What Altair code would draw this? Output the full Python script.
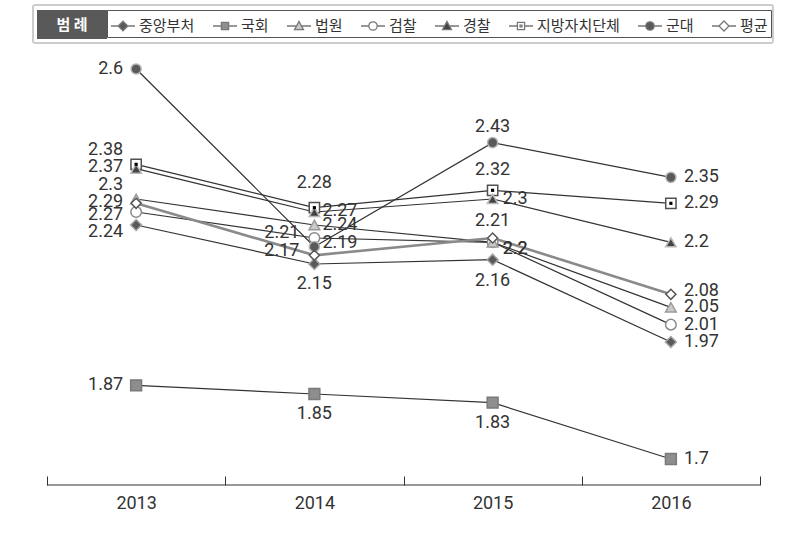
import altair as alt
import pandas as pd

years = ["2013", "2014", "2015", "2016"]
series = ["중앙부처", "국회", "법원", "검찰", "경찰", "지방자치단체", "군대", "평균"]
v_central = [2.24, 2.15, 2.16, 1.97]
v_assembly = [1.87, 1.85, 1.83, 1.70]
v_court = [2.30, 2.24, 2.20, 2.05]
v_prosecution = [2.27, 2.21, 2.20, 2.01]
v_police = [2.37, 2.27, 2.30, 2.20]
v_local = [2.38, 2.28, 2.32, 2.29]
v_military = [2.60, 2.19, 2.43, 2.35]
v_average = [2.29, 2.17, 2.21, 2.08]
values = [v_central, v_assembly, v_court, v_prosecution, v_police, v_local, v_military, v_average]

# ---- styles ----
draw_order = ["국회", "중앙부처", "검찰", "법원", "지방자치단체", "경찰", "군대", "평균"]
shapes = ["diamond", "square", "triangle-up", "circle", "triangle-up", "square", "circle", "diamond"]
fills = ["#5a5a5a", "#8e8e8e", "#c9c9c9", "#ffffff", "#444444", "#ffffff", "#5a5a5a", "#ffffff"]
strokes = ["#a5a5a5", "#7a7a7a", "#9a9a9a", "#8a8a8a", "#b8b8b8", "#505050", "#b5b5b5", "#555555"]
sizes = [121, 100, 144, 144, 144, 100, 160, 196]

legend_paths = [
    "M-1,0H-0.4M0.4,0H1M0,-0.4L0.4,0L0,0.4L-0.4,0Z",
    "M-1,0H-0.3M0.3,0H1M-0.3,-0.3H0.3V0.3H-0.3Z",
    "M-1,0H-0.22M0.22,0H1M0,-0.38L0.37,0.3H-0.37Z",
    "M-1,0H-0.35M0.35,0H1M0.35,0A0.35,0.35 0 1,1 -0.35,0A0.35,0.35 0 1,1 0.35,0Z",
    "M-1,0H-0.22M0.22,0H1M0,-0.38L0.37,0.3H-0.37Z",
    "M-1,0H-0.3M0.3,0H1M-0.3,-0.3H0.3V0.3H-0.3ZM-0.08,-0.08H0.08V0.08H-0.08Z",
    "M-1,0H-0.35M0.35,0H1M0.35,0A0.35,0.35 0 1,1 -0.35,0A0.35,0.35 0 1,1 0.35,0Z",
    "M-1,0H-0.42M0.42,0H1M0,-0.42L0.42,0L0,0.42L-0.42,0Z",
]
legend_strokes = ["#777777"] * 8

# label placement: L=left, R=right, A=above, B=below
place = {
    "중앙부처": ["L", "B", "B", "R"],
    "국회": ["L", "B", "B", "R"],
    "법원": ["L", "R", "R", "R"],
    "검찰": ["L", "L", "R", "R"],
    "경찰": ["L", "R", "R", "R"],
    "지방자치단체": ["L", "A", "A", "R"],
    "군대": ["L", "R", "A", "R"],
    "평균": ["L", "L", "A", "R"],
}
base_off = {"L": ("right", -13, 0), "R": ("left", 13, 0),
            "A": ("center", 0, -18), "B": ("center", 0, 20)}
nudge = {
    ("지방자치단체", "2013"): (0, -14), ("경찰", "2013"): (0, -2), ("법원", "2013"): (0, -14),
    ("평균", "2013"): (0, -1), ("검찰", "2013"): (0, 3), ("중앙부처", "2013"): (0, 7),
    ("지방자치단체", "2014"): (0, -7), ("경찰", "2014"): (-5, -1), ("법원", "2014"): (-5, 0),
    ("검찰", "2014"): (-2, -5), ("군대", "2014"): (-5, -4), ("평균", "2014"): (-2, -4),
    ("군대", "2015"): (0, 2), ("지방자치단체", "2015"): (0, -2), ("평균", "2015"): (0, 1),
    ("법원", "2015"): (-3, 7), ("검찰", "2015"): (-3, 7), ("경찰", "2015"): (-3, 0),
    ("중앙부처", "2015"): (0, 1), ("평균", "2016"): (0, -3),
}

rows = []
for s, vals in zip(series, values):
    for i, (yr, v) in enumerate(zip(years, vals)):
        align, bx, by = base_off[place[s][i]]
        nx, ny = nudge.get((s, yr), (0, 0))
        rows.append({"series": s, "year": yr, "value": v, "label": f"{v:g}",
                     "align": align, "dx": bx + nx, "dy": by + ny,
                     "ord": draw_order.index(s)})
df = pd.DataFrame(rows).sort_values(["ord", "year"]).reset_index(drop=True)

W, H = 713, 435
NUM_FONT = "Roboto, 'Liberation Sans', sans-serif"

x_enc = alt.X("year:O",
              scale=alt.Scale(type="band", paddingInner=0, paddingOuter=0),
              bandPosition=0.5,
              axis=alt.Axis(title=None, domain=False, tickBand="extent", tickSize=9,
                            offset=-9, labelAngle=0, labelFont=NUM_FONT,
                            labelFontSize=18, labelColor="#333333", tickColor="#333333",
                            tickWidth=1, labelPadding=9, grid=False))
y_enc = alt.Y("value:Q", scale=alt.Scale(domain=[1.64, 2.6438], nice=False, zero=False),
              axis=None)

lines = alt.Chart(df).transform_filter("datum.series != '평균'").mark_line(
    color="#333333", strokeWidth=1.2).encode(x=x_enc, y=y_enc, detail="series:N")
avg_line = alt.Chart(df).transform_filter("datum.series == '평균'").mark_line(
    color="#8a8a8a", strokeWidth=2.6).encode(x=x_enc, y=y_enc, detail="series:N")

points = alt.Chart(df).mark_point(filled=True, opacity=1, strokeWidth=1.5).encode(
    x=x_enc, y=y_enc,
    shape=alt.Shape("series:N", scale=alt.Scale(domain=series, range=shapes), legend=None),
    fill=alt.Fill("series:N", scale=alt.Scale(domain=series, range=fills), legend=None),
    stroke=alt.Stroke("series:N", scale=alt.Scale(domain=series, range=strokes), legend=None),
    size=alt.Size("series:N", scale=alt.Scale(domain=series, range=sizes), legend=None),
    order=alt.Order("ord:Q"),
)
dots = alt.Chart(df).transform_filter("datum.series == '지방자치단체'").mark_point(
    filled=True, shape="square", size=10, color="#000000", opacity=1).encode(x=x_enc, y=y_enc)

label_layers = []
for (align, dx, dy), d in df.groupby(["align", "dx", "dy"]):
    label_layers.append(
        alt.Chart(d).mark_text(align=align, baseline="middle", font=NUM_FONT,
                               fontSize=18, color="#333333", dx=int(dx), dy=int(dy)).encode(
            x=x_enc, y=y_enc, text="label:N"))

leg = alt.Legend(title=None, orient="none", legendX=60, legendY=-40, direction="horizontal",
                 columns=8, symbolSize=576, symbolStrokeWidth=1.3, symbolOpacity=1,
                 labelFont="Noto Sans CJK KR", labelFontSize=15, labelColor="#333333",
                 labelOffset=3, columnPadding=15, padding=3, fillColor="#ffffff",
                 strokeColor="#555555", labelLimit=300)
legend_layer = alt.Chart(df).transform_filter("false").mark_point(filled=True, opacity=1).encode(
    shape=alt.Shape("series:N", scale=alt.Scale(domain=series, range=legend_paths), legend=leg),
    fill=alt.Fill("series:N", scale=alt.Scale(domain=series, range=fills), legend=leg),
    stroke=alt.Stroke("series:N", scale=alt.Scale(domain=series, range=legend_strokes), legend=leg),
)

one = alt.Data(values=[{"a": 1}])
frame = alt.Chart(one).mark_rect(fill="#ffffff", stroke="#cccccc", strokeWidth=2, cornerRadius=2).encode(
    x=alt.value(-14), x2=alt.value(726), y=alt.value(-45), y2=alt.value(-7))
tab = alt.Chart(one).mark_rect(fill="#595959").encode(
    x=alt.value(-10), x2=alt.value(60), y=alt.value(-40), y2=alt.value(-11))
tab_text = alt.Chart(one).mark_text(text="범 례", font="Noto Sans CJK KR", fontSize=15,
                                    fontWeight="bold", color="#ffffff", align="center",
                                    baseline="middle").encode(x=alt.value(25), y=alt.value(-25))
domain_rule = alt.Chart(one).mark_rule(color="#333333", strokeWidth=1.2).encode(
    x=alt.value(0), x2=alt.value(W), y=alt.value(H))

chart = alt.layer(
    frame, tab, tab_text, domain_rule, lines, avg_line, points, dots,
    *label_layers, legend_layer
).resolve_scale(
    shape="independent", fill="independent", stroke="independent"
).properties(
    width=W, height=H,
    padding={"left": 47, "top": 50, "right": 25, "bottom": 49},
    autosize=alt.AutoSizeParams(type="none"),
    background="#ffffff",
).configure_view(stroke=None)

chart.save("out.html", embed_options={"renderer": "svg", "actions": False})
